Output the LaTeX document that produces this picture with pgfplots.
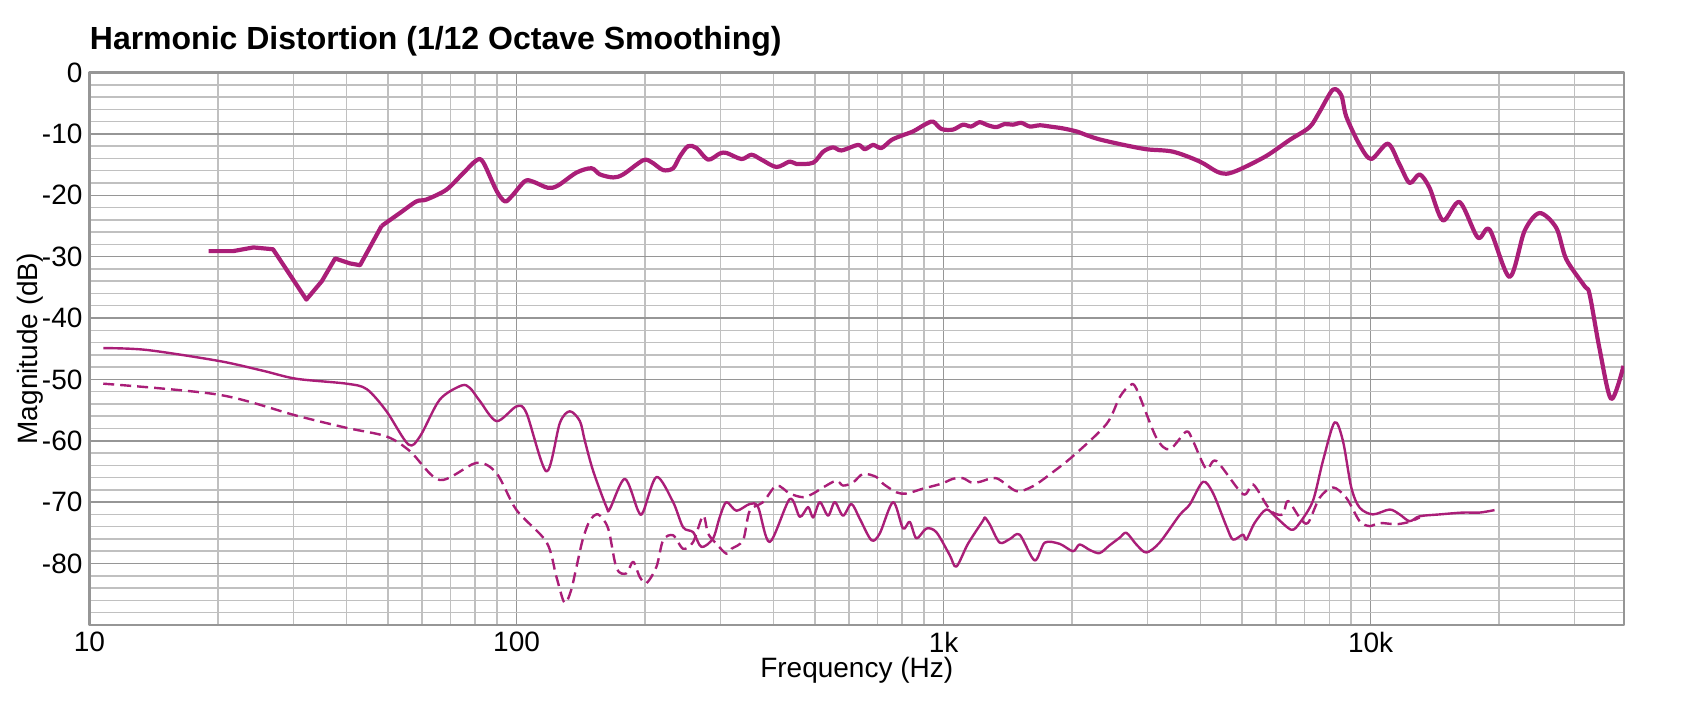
\documentclass[border=0pt]{standalone}
\usepackage{fontspec}
\setmainfont{Liberation Sans}
\usepackage{pgfplots}
\pgfplotsset{compat=1.18}
\definecolor{hd}{RGB}{170,30,120}
\definecolor{majg}{RGB}{150,150,150}
\definecolor{ming}{RGB}{192,192,192}
\begin{document}
\begin{tikzpicture}
\begin{axis}[
  xmode=log, scale only axis, width=767.25pt, height=276.2pt,
  xmin=10, xmax=39200, ymin=-90, ymax=0,
  xtick={10,100,1000,10000}, xticklabels={10,100,1k,10k},
  minor xtick={20,30,40,50,60,70,80,90,200,300,400,500,600,700,800,900,2000,3000,4000,5000,6000,7000,8000,9000,20000,30000},
  ytick={-90,-80,-70,-60,-50,-40,-30,-20,-10,0},
  yticklabels={,-80,-70,-60,-50,-40,-30,-20,-10,0},
  minor ytick={-88,-86,-84,-82,-78,-76,-74,-72,-68,-66,-64,-62,-58,-56,-54,-52,-48,-46,-44,-42,-38,-36,-34,-32,-28,-26,-24,-22,-18,-16,-14,-12,-8,-6,-4,-2},
  grid=both,
  major grid style={majg, line width=0.75pt},
  minor grid style={ming, line width=0.75pt},
  axis line style={majg, line width=1.2pt},
  major tick length=0pt, minor tick length=0pt,
  tick label style={font=\fontsize{14}{16}\selectfont},
  xlabel={Frequency (Hz)}, ylabel={Magnitude (dB)},
  label style={font=\fontsize{14}{16}\selectfont},
  xlabel style={at={(axis description cs:0.5,0)}, anchor=center, yshift=-22.5pt},
  ylabel style={at={(axis description cs:0,0.5)}, anchor=center, yshift=29.75pt},
  title={Harmonic Distortion (1/12 Octave Smoothing)},
  title style={at={(axis description cs:0,1)}, anchor=base west, yshift=5.4pt, inner sep=0pt, font=\bfseries\fontsize{16}{18}\selectfont},
  line join=round,
]
\coordinate (LL) at (rel axis cs:0,0);
\coordinate (UR) at (rel axis cs:1,1);
% fundamental (low-resolution part)
\addplot[hd, line width=2.1pt] table {
19.0 -29.1
21.7 -29.1
24.2 -28.5
26.9 -28.8
32.2 -37.0
35.0 -34.0
37.6 -30.3
40.7 -31.1
43.0 -31.4
48.3 -25.0
};
% fundamental
\addplot[hd, line width=2.1pt, smooth, tension=0.5] table {
48.3 -25.0
53.3 -22.9
58.3 -21.0
61.5 -20.7
68.5 -19.1
75 -16.4
80.6 -14.3
83.5 -14.6
89.8 -19.3
93.9 -21.0
97.3 -20.2
104.6 -17.7
109.4 -17.8
118.6 -18.8
125.1 -18.4
138.2 -16.3
149.8 -15.6
156.7 -16.6
168.4 -17.1
177.7 -16.6
197.9 -14.3
207 -14.6
220.4 -15.9
232.6 -15.6
241.1 -13.7
252.1 -12.0
263.8 -12.3
280.8 -14.2
299.2 -13.2
310 -13.1
336.3 -14.1
355 -13.4
374.6 -14.2
406.1 -15.4
436.3 -14.5
452.2 -14.9
494.8 -14.7
522.3 -12.9
551 -12.2
576.5 -12.7
630.6 -11.8
653.7 -12.5
683.7 -11.8
715.2 -12.3
755 -11.0
796.5 -10.3
848 -9.6
903 -8.5
944.5 -8.0
988 -9.2
1052 -9.3
1110 -8.5
1160 -8.8
1214 -8.1
1270 -8.6
1329 -8.9
1390 -8.4
1454 -8.5
1520 -8.2
1591 -8.8
1680 -8.6
1772 -8.8
1900 -9.1
2046 -9.6
2180 -10.3
2319 -10.9
2600 -11.7
2983 -12.5
3443 -12.9
3978 -14.5
4351 -16.1
4592 -16.5
4935 -15.8
5696 -13.6
6458 -11.0
7194 -8.9
7594 -6.4
8157 -2.8
8533 -3.7
8770 -7.2
9423 -11.8
10030 -14.1
10974 -11.6
11686 -15.0
12336 -18.0
13021 -16.6
13738 -18.8
14760 -24.1
16150 -21.1
17820 -26.9
18990 -25.6
21150 -33.3
22930 -25.8
24860 -22.9
27200 -25.3
28700 -30.4
31680 -34.8
32550 -36.1
34350 -45.0
36580 -53.2
39100 -47.8
};
% second harmonic
\addplot[hd, line width=1.2pt, smooth, tension=0.5] table {
10.77 -44.9
13.6 -45.2
20.1 -47.0
25.5 -48.6
30.5 -49.9
40.0 -50.7
44.6 -51.6
49.6 -55.2
55.8 -60.6
59.4 -59.3
66.1 -53.3
74.3 -51.0
77.8 -51.4
82.0 -53.5
89.8 -56.8
100 -54.4
105.5 -55.5
117.5 -65.0
126.3 -57.1
133.3 -55.2
140.7 -56.8
144.5 -60.0
151.1 -64.9
162.4 -70.8
165.4 -71.1
179.3 -66.2
192.6 -71.4
197.9 -71.6
212.7 -65.9
232.6 -70.0
245.5 -74.1
259.1 -74.9
271 -77.3
288.5 -75.9
299.2 -72.4
310 -70.0
327.3 -71.4
351.7 -70.3
367.8 -70.8
391.7 -76.5
436.3 -69.5
460.5 -72.4
481.6 -70.8
494.8 -72.5
513 -70.0
536.4 -72.2
556.2 -70.0
581.4 -72.2
608.4 -70.3
636.3 -72.7
677.7 -76.2
708.8 -75.1
761.6 -70.0
803.5 -74.3
833 -73.2
863.6 -75.9
911.3 -74.3
961.8 -74.9
1033 -78.6
1071 -80.5
1140 -76.8
1237 -73.0
1249 -72.5
1282 -73.6
1353 -76.6
1430 -76.0
1507 -75.3
1634 -79.5
1725 -76.6
1870 -76.8
2009 -78.0
2082 -76.9
2200 -77.8
2319 -78.3
2450 -77.0
2584 -75.8
2679 -75.0
2827 -76.9
2983 -78.2
3204 -76.6
3570 -72.1
3769 -70.4
4048 -66.7
4272 -68.5
4592 -73.9
4760 -76.1
5022 -75.3
5116 -76.1
5348 -73.4
5696 -71.2
6012 -72.5
6518 -74.5
6818 -73.4
7324 -69.8
7731 -63.3
8232 -57.0
8610 -60.0
9007 -67.6
9423 -70.9
10123 -72.0
11076 -71.2
11690 -72.0
12336 -73.1
13021 -72.3
14500 -72.0
16440 -71.7
17990 -71.7
19500 -71.3
};
% third harmonic
\addplot[hd, line width=1.2pt, dash pattern=on 5.5pt off 3pt, smooth, tension=0.5] table {
10.77 -50.7
20.1 -52.5
30.5 -55.9
40.0 -57.9
49.6 -59.3
56.3 -61.7
66.1 -66.4
80.6 -63.6
89.8 -65.3
100 -71.3
117.5 -76.5
124 -82.2
129.5 -86.4
134 -84.5
138.2 -80.5
143 -76.0
148.5 -73.0
155.3 -72.0
163.9 -74.3
171.5 -80.8
180.9 -81.6
187.5 -79.7
194.4 -82.2
201.5 -83.2
212.7 -80.5
220.4 -76.2
232.6 -75.4
245.5 -77.6
259.1 -76.5
273.4 -72.2
280.8 -75.1
293.8 -76.8
310 -78.4
318.6 -77.6
339.2 -76.2
351.7 -71.4
377.8 -70.0
406.1 -67.3
436.3 -68.6
468.8 -69.2
494.8 -68.6
522.3 -67.6
561 -66.5
581.4 -67.3
613.7 -66.8
647.6 -65.4
696 -65.9
721.5 -67.0
775.5 -68.4
818.4 -68.6
894.8 -67.8
988 -67.0
1052 -66.2
1110 -66.1
1161 -66.8
1215 -66.7
1329 -66.1
1481 -68.2
1619 -67.4
1772 -65.5
2009 -62.5
2405 -57.3
2584 -52.9
2727 -51.0
2827 -51.5
3149 -59.5
3382 -61.4
3701 -58.5
3836 -60.0
4121 -64.6
4351 -63.3
5022 -68.7
5300 -67.1
5696 -70.4
5904 -71.7
6230 -72.0
6400 -69.8
6818 -72.5
7129 -73.4
7594 -69.3
8157 -67.6
8770 -69.3
9423 -73.1
9945 -73.9
10496 -73.4
11482 -73.6
12336 -73.2
13021 -72.5
};
\end{axis}
\pgfresetboundingbox
\path[use as bounding box] ([shift={(-44.75pt,-38pt)}]LL) rectangle ([shift={(33pt,36.25pt)}]UR);
\end{tikzpicture}
\end{document}
